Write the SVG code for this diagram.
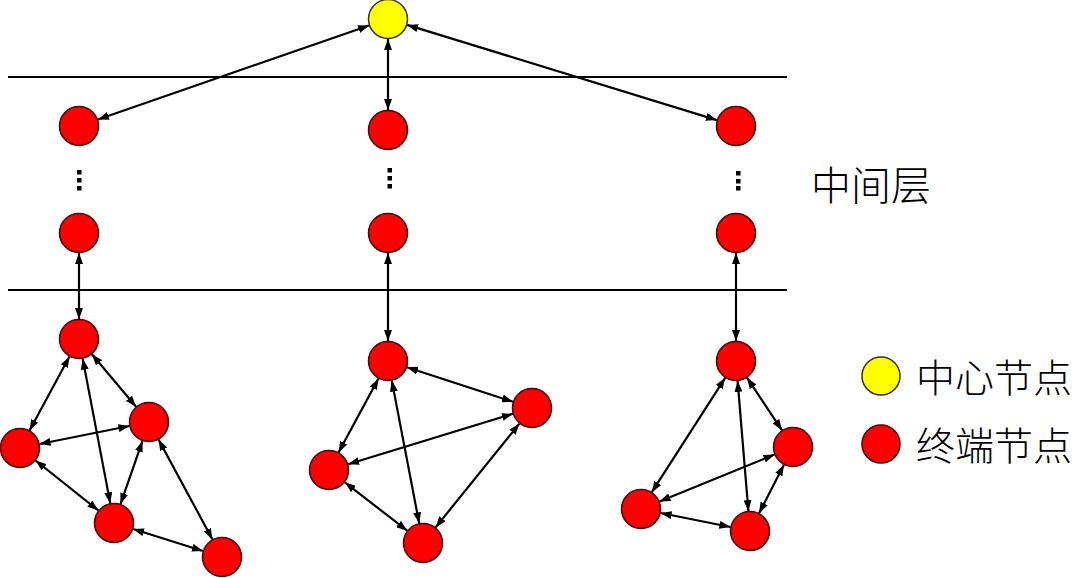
<svg xmlns="http://www.w3.org/2000/svg" width="1080" height="578" viewBox="0 0 1080 578">
<style>
.n{fill:#ff0000;stroke:#3a0000;stroke-width:1.5}
.c{fill:#ffff00;stroke:#3a2a00;stroke-width:1.5}
.e{stroke:#000;stroke-width:2.2;fill:none;marker-start:url(#ah);marker-end:url(#ah)}
.layer{stroke:#000;stroke-width:2.2}
.dot{fill:#000}
.t{font-family:"Noto Sans CJK SC","Noto Sans CJK JP",sans-serif;fill:#000;font-weight:300}
</style>
<defs>
<marker id="ah" markerUnits="userSpaceOnUse" markerWidth="11" markerHeight="8" refX="11" refY="4" orient="auto-start-reverse">
<path d="M0,0 L11,4 L0,8 z" fill="#000"/>
</marker>
</defs>
<rect width="1080" height="578" fill="#fff"/>
<g id="layers">
<line class="layer" x1="8" y1="77" x2="787" y2="77"/>
<line class="layer" x1="8" y1="290" x2="787" y2="290"/>
</g>
<g id="connectors">
<line class="e" x1="369.1" y1="25.5" x2="97.9" y2="119.5"/>
<line class="e" x1="388" y1="39" x2="388" y2="110"/>
<line class="e" x1="407.1" y1="24.9" x2="716.9" y2="120.1"/>
<line class="e" x1="79" y1="253" x2="79" y2="319"/>
<line class="e" x1="388" y1="253" x2="388" y2="341"/>
<line class="e" x1="736" y1="253" x2="736" y2="341"/>
<line class="e" x1="91.9" y1="354.3" x2="136.1" y2="406.7"/>
<line class="e" x1="69.5" y1="356.6" x2="29.5" y2="430.4"/>
<line class="e" x1="82.7" y1="358.6" x2="110.3" y2="503.4"/>
<line class="e" x1="39.6" y1="444.0" x2="129.4" y2="426.0"/>
<line class="e" x1="142.5" y1="440.9" x2="120.5" y2="504.1"/>
<line class="e" x1="35.6" y1="460.5" x2="98.4" y2="510.5"/>
<line class="e" x1="158.5" y1="439.6" x2="212.5" y2="539.4"/>
<line class="e" x1="133.1" y1="529.0" x2="202.9" y2="551.0"/>
<line class="e" x1="407.0" y1="367.2" x2="513.0" y2="401.8"/>
<line class="e" x1="378.5" y1="378.6" x2="338.5" y2="452.4"/>
<line class="e" x1="391.8" y1="380.6" x2="419.2" y2="523.4"/>
<line class="e" x1="348.1" y1="464.2" x2="512.9" y2="413.8"/>
<line class="e" x1="519.4" y1="423.6" x2="435.6" y2="527.4"/>
<line class="e" x1="344.8" y1="482.3" x2="407.2" y2="530.7"/>
<line class="e" x1="747.0" y1="377.7" x2="782.0" y2="430.3"/>
<line class="e" x1="725.2" y1="377.8" x2="651.8" y2="492.2"/>
<line class="e" x1="737.6" y1="380.9" x2="748.4" y2="511.1"/>
<line class="e" x1="659.5" y1="501.4" x2="774.5" y2="454.6"/>
<line class="e" x1="783.9" y1="464.8" x2="759.1" y2="513.2"/>
<line class="e" x1="660.6" y1="513.0" x2="730.4" y2="527.0"/>
</g>
<g id="center"><circle class="c" cx="388" cy="19" r="19.5"/></g>
<g id="mid-left-1"><circle class="n" cx="79" cy="126" r="19.5"/></g>
<g id="mid-center-1"><circle class="n" cx="388" cy="130" r="19.5"/></g>
<g id="mid-right-1"><circle class="n" cx="736" cy="126" r="19.5"/></g>
<g id="dots">
<rect class="dot" x="77" y="170" width="4.5" height="4.5"/>
<rect class="dot" x="77" y="178" width="4.5" height="4.5"/>
<rect class="dot" x="77" y="186" width="4.5" height="4.5"/>
<rect class="dot" x="387.5" y="168" width="4.5" height="4.5"/>
<rect class="dot" x="387.5" y="176" width="4.5" height="4.5"/>
<rect class="dot" x="387.5" y="184" width="4.5" height="4.5"/>
<rect class="dot" x="736" y="171" width="4.5" height="4.5"/>
<rect class="dot" x="736" y="179" width="4.5" height="4.5"/>
<rect class="dot" x="736" y="186" width="4.5" height="4.5"/>
</g>
<g id="mid-left-2"><circle class="n" cx="79" cy="233" r="19.5"/></g>
<g id="mid-center-2"><circle class="n" cx="388" cy="233" r="19.5"/></g>
<g id="mid-right-2"><circle class="n" cx="736" cy="233" r="19.5"/></g>
<g id="left-1"><circle class="n" cx="79" cy="339" r="19.5"/></g>
<g id="left-2"><circle class="n" cx="149" cy="422" r="19.5"/></g>
<g id="left-3"><circle class="n" cx="20" cy="448" r="19.5"/></g>
<g id="left-4"><circle class="n" cx="114" cy="523" r="19.5"/></g>
<g id="left-5"><circle class="n" cx="222" cy="557" r="19.5"/></g>
<g id="center-1"><circle class="n" cx="388" cy="361" r="19.5"/></g>
<g id="center-2"><circle class="n" cx="532" cy="408" r="19.5"/></g>
<g id="center-3"><circle class="n" cx="329" cy="470" r="19.5"/></g>
<g id="center-4"><circle class="n" cx="423" cy="543" r="19.5"/></g>
<g id="right-1"><circle class="n" cx="736" cy="361" r="19.5"/></g>
<g id="right-2"><circle class="n" cx="793" cy="447" r="19.5"/></g>
<g id="right-3"><circle class="n" cx="641" cy="509" r="19.5"/></g>
<g id="right-4"><circle class="n" cx="750" cy="531" r="19.5"/></g>
<g id="layer-label"><text class="t" x="811" y="200" font-size="40">中间层</text></g>
<g id="legend">
<circle class="c" cx="881" cy="376" r="19"/>
<text class="t" x="916" y="392" font-size="39">中心节点</text>
<circle class="n" cx="881" cy="444" r="19"/>
<text class="t" x="916" y="460" font-size="39">终端节点</text>
</g>
</svg>
